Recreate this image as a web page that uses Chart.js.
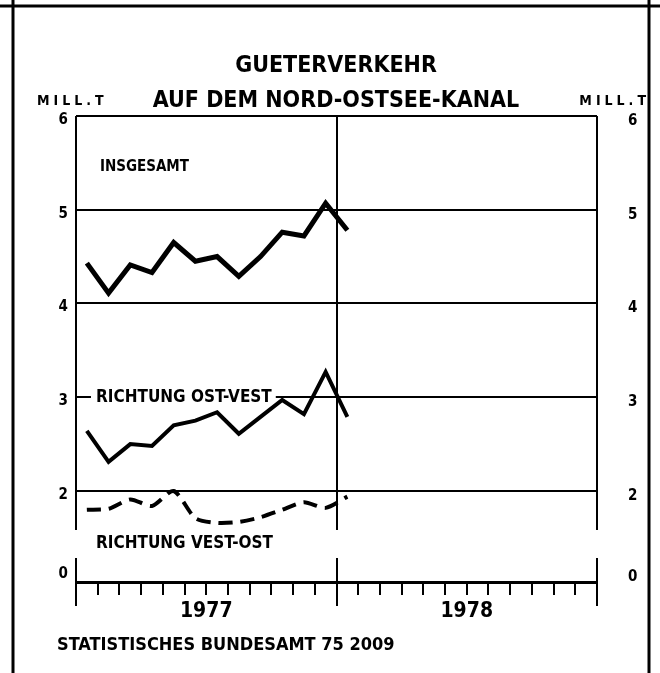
<!DOCTYPE html>
<html>
<head>
<meta charset="utf-8">
<script src="https://cdn.jsdelivr.net/npm/chart.js@4.4.1/dist/chart.umd.min.js"></script>
<style>
  html, body { margin: 0; padding: 0; background: #fff; }
</style>
</head>
<body>
<canvas id="chart" width="660" height="673"></canvas>
<script>
// Monatswerte Jan 1977 bis Jan 1978, Mill. t
const monate = ['Jan 77', 'Feb 77', 'Mär 77', 'Apr 77', 'Mai 77', 'Jun 77', 'Jul 77',
                'Aug 77', 'Sep 77', 'Okt 77', 'Nov 77', 'Dez 77', 'Jan 78'];
const insgesamt = [4.43, 4.11, 4.41, 4.33, 4.65, 4.45, 4.50, 4.29, 4.50, 4.76, 4.72, 5.07, 4.78];
const ostWest   = [2.64, 2.31, 2.50, 2.48, 2.70, 2.75, 2.84, 2.61, 2.79, 2.97, 2.82, 3.27, 2.79];
const westOst   = [1.80, 1.81, 1.91, 1.84, 2.00, 1.71, 1.66, 1.67, 1.72, 1.80, 1.88, 1.82, 1.94];
const jahre = ['1977', '1978'];
const yTicks = [2, 3, 4, 5, 6];
const nullTick = [0];

const FONT = '"DejaVu Sans Condensed", "DejaVu Sans", sans-serif';

// each month sits in the middle of its slot on the month axis
const punkte = werte => werte.map((v, i) => ({ x: i + 0.5, y: v }));

const tickSetter = list => scale => { scale.ticks = list.map(v => ({ value: v })); };
const fixWidth = w => scale => { scale.width = w; };

const linksScale = (extra) => Object.assign({
    position: 'left',
    stack: 'links',
    grid: { display: false, drawTicks: false },
    border: { display: false },
    ticks: { display: false },
    afterFit: fixWidth(46)
}, extra);

const rechtsScale = (extra) => Object.assign({
    position: 'right',
    stack: 'rechts',
    grid: { display: false, drawTicks: false },
    border: { display: false },
    ticks: { display: false },
    afterFit: fixWidth(45)
}, extra);

const tickFont = { family: FONT, size: 15, weight: 'bold' };

const beschriftung = {
    id: 'beschriftung',
    beforeDatasetsDraw(chart) {
        const { ctx, chartArea, scales } = chart;
        const gap = scales.yGap;
        ctx.save();
        // break between upper panel and zero line
        ctx.fillStyle = '#fff';
        ctx.fillRect(chartArea.left - 3, gap.top, chartArea.width + 6, gap.bottom - gap.top);

        ctx.fillStyle = '#000';
        ctx.textBaseline = 'middle';
        ctx.textAlign = 'left';
        ctx.font = `bold 15px ${FONT}`;
        ctx.fillText('INSGESAMT', scales.x.getPixelForValue(1.1), scales.y.getPixelForValue(5.45));

        ctx.font = `bold 17px ${FONT}`;
        const t = 'RICHTUNG OST-VEST';
        const tx = scales.x.getPixelForValue(0.92);
        const ty = scales.y.getPixelForValue(3);
        const w = ctx.measureText(t).width;
        ctx.fillStyle = '#fff';
        ctx.fillRect(tx - 5, ty - 9, w + 9, 18);
        ctx.fillStyle = '#000';
        ctx.fillText(t, tx, ty);

        ctx.fillText('RICHTUNG VEST-OST', scales.x.getPixelForValue(0.92), (gap.top + gap.bottom) / 2);
        ctx.restore();
    },
    afterDraw(chart) {
        const { ctx, chartArea, width, height } = chart;
        ctx.save();
        ctx.strokeStyle = '#000';
        ctx.lineWidth = 3;
        ctx.beginPath();
        ctx.moveTo(0, 6); ctx.lineTo(width, 6);
        ctx.moveTo(13, 0); ctx.lineTo(13, height);
        ctx.moveTo(649, 0); ctx.lineTo(649, height);
        ctx.stroke();

        ctx.fillStyle = '#000';
        ctx.textBaseline = 'middle';
        ctx.font = `bold 14px ${FONT}`;
        ctx.letterSpacing = '4px';
        ctx.textAlign = 'left';
        ctx.fillText('MILL.T', 37, chartArea.top - 15);
        ctx.textAlign = 'right';
        ctx.fillText('MILL.T', 650, chartArea.top - 15);
        ctx.letterSpacing = '0px';

        ctx.font = `bold 18px ${FONT}`;
        ctx.textAlign = 'left';
        ctx.fillText('STATISTISCHES BUNDESAMT 75 2009', chartArea.left - 19, chartArea.bottom + 39);
        ctx.restore();
    }
};

new Chart(document.getElementById('chart'), {
    type: 'line',
    data: {
        labels: monate,
        datasets: [
            {
                label: 'INSGESAMT',
                data: punkte(insgesamt),
                xAxisID: 'x',
                yAxisID: 'y',
                borderColor: '#000',
                borderWidth: 5,
                pointRadius: 0,
                tension: 0
            },
            {
                label: 'RICHTUNG OST-VEST',
                data: punkte(ostWest),
                xAxisID: 'x',
                yAxisID: 'y',
                borderColor: '#000',
                borderWidth: 4,
                pointRadius: 0,
                tension: 0
            },
            {
                label: 'RICHTUNG VEST-OST',
                data: punkte(westOst),
                xAxisID: 'x',
                yAxisID: 'y',
                borderColor: '#000',
                borderWidth: 4,
                borderDash: [14, 8],
                pointRadius: 0,
                tension: 0.25
            }
        ]
    },
    options: {
        responsive: false,
        animation: false,
        events: [],
        layout: { padding: { left: 30, right: 18, top: 0, bottom: 67 } },
        plugins: {
            legend: { display: false },
            tooltip: { enabled: false },
            title: {
                display: true,
                text: ['GUETERVERKEHR', 'AUF DEM NORD-OSTSEE-KANAL'],
                color: '#000',
                font: { family: FONT, size: 23, weight: 'bold', lineHeight: 1.52 },
                padding: { top: 48.5, bottom: -2.5 }
            }
        },
        scales: {
            x: {
                type: 'linear',
                min: 0,
                max: 24,
                position: { y0: 0 },
                afterBuildTicks: scale => {
                    scale.ticks = Array.from({ length: 25 }, (_, i) => ({ value: i }));
                },
                grid: {
                    color: c => (c.tick && c.tick.value % 12 === 0) ? '#000' : 'rgba(0,0,0,0)',
                    lineWidth: 2,
                    drawTicks: true,
                    tickLength: 11,
                    tickColor: '#000',
                    tickWidth: 2
                },
                border: { display: true, color: '#000', width: 3 },
                ticks: {
                    autoSkip: false,
                    maxRotation: 0,
                    padding: 5,
                    color: '#000',
                    font: { family: FONT, size: 21, weight: 'bold' },
                    callback: v => (v % 12 === 6) ? jahre[Math.floor(v / 12)] : ''
                }
            },
            // left stack, listed bottom first (left boxes are laid out in reverse order)
            y0: linksScale({
                min: -0.92, max: 1, stackWeight: 48,
                afterBuildTicks: tickSetter(nullTick),
                ticks: { display: true, padding: 8, labelOffset: -9, color: '#000', font: tickFont }
            }),
            yGap: linksScale({ min: 0, max: 1, stackWeight: 28 }),
            y: linksScale({
                min: 1.584, max: 6, stackWeight: 414,
                afterBuildTicks: tickSetter(yTicks),
                grid: { display: true, color: '#000', lineWidth: 2, drawTicks: false },
                ticks: { display: true, padding: 8, labelOffset: 4, color: '#000', font: tickFont }
            }),
            // right stack, listed top first
            yR: rechtsScale({
                min: 1.584, max: 6, stackWeight: 414,
                afterBuildTicks: tickSetter(yTicks),
                ticks: { display: true, padding: 31, labelOffset: 5, color: '#000', font: tickFont }
            }),
            yGapR: rechtsScale({ min: 0, max: 1, stackWeight: 28 }),
            y0R: rechtsScale({
                min: -0.92, max: 1, stackWeight: 48,
                afterBuildTicks: tickSetter(nullTick),
                ticks: { display: true, padding: 31, labelOffset: -6, color: '#000', font: tickFont }
            })
        }
    },
    plugins: [beschriftung]
});
</script>
</body>
</html>
